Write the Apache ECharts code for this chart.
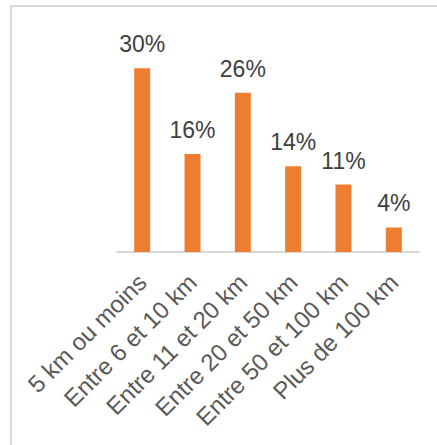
<!DOCTYPE html>
<html><head><meta charset="utf-8">
<script src="https://cdn.jsdelivr.net/npm/echarts@6/dist/echarts.min.js"></script>
<style>html,body{margin:0;padding:0;background:#fff}#c{width:437px;height:445px}</style>
</head><body><div id="c"></div>
<script>
const categories = ['5 km ou moins', 'Entre 6 et 10 km', 'Entre 11 et 20 km', 'Entre 20 et 50 km', 'Entre 50 et 100 km', 'Plus de 100 km'];
const values = [30, 16, 26, 14, 11, 4];

const chart = echarts.init(document.getElementById('c'), null, {renderer: 'svg'});
chart.setOption({
  animation: false,
  backgroundColor: '#fff',
  graphic: [{
    type: 'rect', silent: true,
    shape: {x: 11, y: 6, width: 600, height: 600},
    style: {fill: 'none', stroke: '#D9D9D9', lineWidth: 2}
  }],
  grid: {left: 117, right: 18, top: 37.5, bottom: 193, containLabel: false},
  xAxis: {
    type: 'category', data: categories,
    axisLine: {lineStyle: {color: '#D9D9D9', width: 2}},
    axisTick: {show: false},
    axisLabel: {rotate: 45, interval: 0, margin: 26, color: '#595959', fontSize: 24,
      fontFamily: 'Arial'}
  },
  yAxis: {type: 'value', min: 0, max: 35, show: false, splitLine: {show: false}},
  series: [{
    type: 'bar', data: values, barWidth: 16,
    itemStyle: {color: '#ED7D31'},
    label: {show: true, position: 'top', distance: 12.5, formatter: '{c}%', color: '#404040', fontSize: 23,
      fontFamily: 'Arial'}
  }]
});
</script></body></html>
